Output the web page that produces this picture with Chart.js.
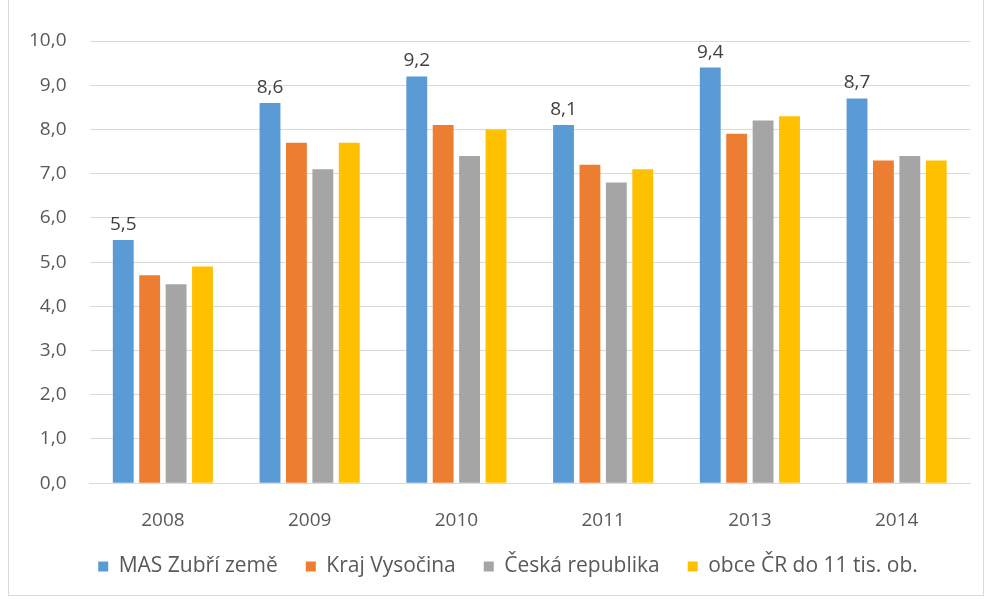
<!DOCTYPE html>
<html>
<head>
<meta charset="utf-8">
<script src="https://cdn.jsdelivr.net/npm/chart.js@4/dist/chart.umd.min.js"></script>
<style>
  html, body { margin: 0; padding: 0; background: #fff; }
  #wrap { position: absolute; left: 0; top: 0; width: 986px; height: 599px; }
  #frame { position: absolute; left: 8px; top: -2px; width: 976px; height: 598px; border: 1px solid #d9d9d9; box-sizing: border-box; pointer-events: none; }
</style>
</head>
<body>
<div id="wrap"><canvas id="chart"></canvas></div>
<div id="frame"></div>
<script>
const years = ['2008', '2009', '2010', '2011', '2013', '2014'];
const masZubri = [5.5, 8.6, 9.2, 8.1, 9.4, 8.7];
const krajVysocina = [4.7, 7.7, 8.1, 7.2, 7.9, 7.3];
const ceskaRepublika = [4.5, 7.1, 7.4, 6.8, 8.2, 7.4];
const obceCR = [4.9, 7.7, 8.0, 7.1, 8.3, 7.3];

const fontFamily = '"Open Sans", "Noto Sans", sans-serif';
const fontSize = 19;

// labels only above the first series
const blueLabels = {
    id: 'blueLabels',
    afterDatasetsDraw(chart) {
        const ctx = chart.ctx;
        const meta = chart.getDatasetMeta(0);
        ctx.save();
        ctx.font = fontSize + 'px ' + fontFamily;
        ctx.fillStyle = '#404040';
        ctx.textAlign = 'center';
        ctx.textBaseline = 'alphabetic';
        meta.data.forEach(function (bar, i) {
            ctx.fillText(masZubri[i].toFixed(1).replace('.', ','), bar.x, bar.y - 10);
        });
        ctx.restore();
    }
};

// legend sits a bit right of the canvas centre
const legendShift = {
    id: 'legendShift',
    afterLayout(chart) {
        chart.legend.left += 20;
        chart.legend.right += 20;
    }
};

const ctx = document.getElementById('chart').getContext('2d');
const myChart = new Chart(ctx, {
    type: 'bar',
    data: {
        labels: years,
        datasets: [
            { label: 'MAS Zubří země', data: masZubri, backgroundColor: '#5b9bd5' },
            { label: 'Kraj Vysočina', data: krajVysocina, backgroundColor: '#ed7d31' },
            { label: 'Česká republika', data: ceskaRepublika, backgroundColor: '#a5a5a5' },
            { label: 'obce ČR do 11 tis. ob.', data: obceCR, backgroundColor: '#ffc000' }
        ]
    },
    options: {
        responsive: true,
        maintainAspectRatio: false,
        animation: false,
        categoryPercentage: 0.72,
        barPercentage: 0.79,
        layout: { padding: { top: 41, left: 6, right: 16, bottom: 12 } },
        plugins: {
            tooltip: { enabled: false },
            legend: {
                position: 'bottom',
                labels: {
                    boxWidth: 10,
                    boxHeight: 10,
                    padding: 28,
                    color: '#595959',
                    font: { family: fontFamily, size: 21 }
                }
            }
        },
        scales: {
            x: {
                grid: { display: false, tickLength: 30 },
                border: { color: '#d9d9d9' },
                ticks: { color: '#595959', padding: -4, font: { family: fontFamily, size: fontSize } }
            },
            y: {
                min: 0,
                max: 10,
                grid: { color: '#d9d9d9', drawTicks: false },
                border: { display: false },
                ticks: {
                    stepSize: 1,
                    padding: 23,
                    color: '#595959',
                    font: { family: fontFamily, size: fontSize },
                    callback: function (v) { return v.toFixed(1).replace('.', ','); }
                }
            }
        }
    },
    plugins: [blueLabels, legendShift]
});
</script>
</body>
</html>
